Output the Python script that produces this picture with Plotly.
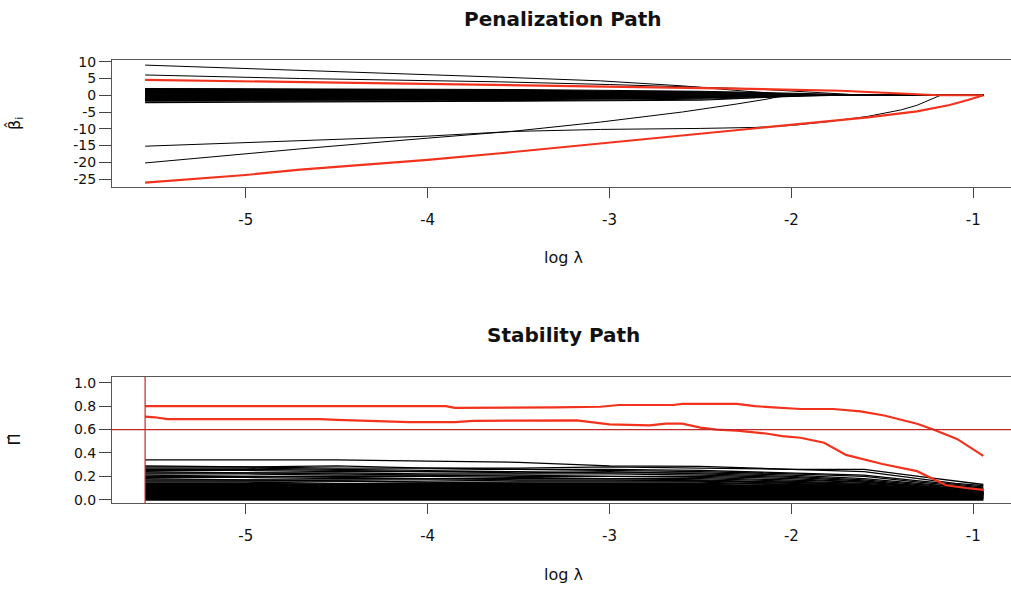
import plotly.graph_objects as go

# ---------------- data ----------------
LOG_LAMBDA_MIN = -5.553
LOG_LAMBDA_MAX = -0.945

# Penalization path: highlighted / distinct coefficient paths (x = log lambda, y = beta)
pen_C_x = [-5.553, -4.7, -3.6, -3.05, -2.6, -2.25, -1.95, -0.945]
pen_C_y = [9.0, 7.5, 5.4, 4.3, 2.8, 1.2, 0.0, 0.0]
pen_D_x = [-5.553, -4.7, -3.6, -3.0, -2.2, -1.85, -1.6, -0.945]
pen_D_y = [6.05, 5.0, 4.0, 3.2, 1.9, 0.9, 0.0, 0.0]
pen_A_x = [-5.553, -5.0, -4.5, -4.0, -3.53, -3.05, -2.5, -2.2, -2.0, -1.8, -1.58, -1.40, -1.31, -1.22, -1.18, -0.945]
pen_A_y = [-15.2, -14.2, -13.1, -12.2, -10.8, -10.2, -9.9, -9.6, -9.0, -7.9, -6.3, -4.4, -3.0, -1.0, 0.0, 0.0]
pen_B_x = [-5.553, -4.7, -4.0, -3.53, -3.05, -2.6, -2.3, -2.14, -2.03, -0.945]
pen_B_y = [-20.2, -16.0, -12.8, -10.75, -8.0, -5.0, -2.6, -1.2, 0.0, 0.0]
pen_red_E_x = [-5.553, -4.7, -3.6, -3.05, -2.3, -1.73, -1.45, -1.19, -0.945]
pen_red_E_y = [4.6, 3.9, 3.0, 2.7, 2.0, 1.35, 0.7, 0.0, 0.0]
pen_red_F_x = [-5.553, -5.0, -4.7, -4.0, -3.6, -3.05, -2.69, -2.32, -1.95, -1.58, -1.31, -1.13, -1.03, -0.945]
pen_red_F_y = [-26.1, -23.8, -22.2, -19.3, -17.3, -14.4, -12.4, -10.5, -8.7, -6.6, -4.8, -2.9, -1.4, 0.0]

# Penalization path: bulk of small coefficients
# value at start, at log lambda -3.5, at -2.5, and log lambda where it reaches 0
bulk_mid_x = [-3.5, -2.5]
bulk_v0  = [2.0, 1.9, 1.8, 1.7, 1.6, 1.5, 1.4, 1.3, 1.2, 1.1, 1.0, 0.9, 0.8, 0.7, 0.6, 0.5, 0.4, 0.3,
            -0.3, -0.4, -0.5, -0.6, -0.7, -0.8, -0.9, -1.0, -1.1, -1.2, -1.3, -1.4, -1.5, -1.6, -1.8, -2.2, 0.1, -0.1]
bulk_v35 = [1.7, 1.5, 1.4, 1.3, 1.2, 1.1, 1.0, 0.9, 0.8, 0.8, 0.7, 0.6, 0.5, 0.45, 0.4, 0.3, 0.25, 0.2,
            -0.2, -0.3, -0.35, -0.4, -0.5, -0.55, -0.6, -0.7, -0.8, -0.9, -1.0, -1.1, -1.2, -1.3, -1.6, -1.8, 0.05, -0.05]
bulk_v25 = [1.2, 1.0, 0.9, 0.8, 0.7, 0.6, 0.5, 0.5, 0.4, 0.4, 0.3, 0.3, 0.25, 0.2, 0.15, 0.1, 0.1, 0.05,
            -0.05, -0.1, -0.15, -0.2, -0.25, -0.3, -0.35, -0.4, -0.45, -0.5, -0.6, -0.7, -0.8, -0.9, -1.2, -1.5, 0.02, -0.02]
bulk_zero = [-1.5, -1.7, -1.9, -2.0, -2.1, -1.8, -2.2, -1.6, -2.0, -2.3, -2.1, -1.9, -2.2, -2.0, -2.3, -2.1, -2.2, -2.3,
             -2.3, -2.2, -2.1, -2.0, -2.2, -1.9, -2.1, -2.0, -1.8, -2.2, -1.9, -2.0, -1.7, -2.1, -1.8, -1.9, -2.4, -2.4]

# Stability path
stab_x = [-5.553, -5.0, -4.5, -4.0, -3.5, -3.0, -2.5, -2.0, -1.6, -1.3, -1.1, -0.945]
stab_black = [
    [0.34, 0.34, 0.34, 0.33, 0.32, 0.29, 0.285, 0.26, 0.26, 0.20, 0.16, 0.13],
    [0.29, 0.28, 0.29, 0.27, 0.27, 0.28, 0.27, 0.26, 0.24, 0.18, 0.14, 0.12],
    [0.28, 0.28, 0.27, 0.27, 0.26, 0.26, 0.25, 0.23, 0.21, 0.16, 0.13, 0.11],
    [0.27, 0.27, 0.26, 0.25, 0.26, 0.25, 0.24, 0.22, 0.20, 0.15, 0.12, 0.10],
    [0.26, 0.26, 0.25, 0.24, 0.24, 0.23, 0.23, 0.21, 0.18, 0.14, 0.11, 0.09],
    [0.25, 0.25, 0.24, 0.24, 0.23, 0.24, 0.22, 0.20, 0.17, 0.13, 0.11, 0.09],
    [0.24, 0.23, 0.23, 0.22, 0.22, 0.22, 0.21, 0.19, 0.16, 0.12, 0.10, 0.08],
    [0.23, 0.23, 0.22, 0.21, 0.21, 0.20, 0.20, 0.18, 0.15, 0.12, 0.10, 0.08],
    [0.22, 0.22, 0.21, 0.21, 0.20, 0.20, 0.19, 0.17, 0.15, 0.11, 0.09, 0.07],
    [0.21, 0.20, 0.20, 0.20, 0.19, 0.18, 0.18, 0.16, 0.14, 0.11, 0.09, 0.07],
    [0.20, 0.20, 0.19, 0.18, 0.18, 0.18, 0.17, 0.15, 0.13, 0.10, 0.08, 0.07],
    [0.19, 0.19, 0.18, 0.18, 0.17, 0.17, 0.16, 0.15, 0.13, 0.10, 0.08, 0.06],
    [0.18, 0.17, 0.17, 0.17, 0.16, 0.16, 0.16, 0.14, 0.12, 0.09, 0.07, 0.06],
    [0.17, 0.17, 0.16, 0.15, 0.15, 0.15, 0.15, 0.13, 0.12, 0.09, 0.07, 0.06],
    [0.16, 0.16, 0.16, 0.15, 0.14, 0.14, 0.14, 0.13, 0.11, 0.08, 0.07, 0.05],
    [0.15, 0.15, 0.14, 0.14, 0.14, 0.13, 0.13, 0.12, 0.11, 0.08, 0.06, 0.05],
    [0.14, 0.14, 0.13, 0.13, 0.13, 0.13, 0.12, 0.11, 0.10, 0.08, 0.06, 0.05],
    [0.13, 0.13, 0.13, 0.12, 0.12, 0.12, 0.12, 0.12, 0.11, 0.09, 0.07, 0.06],
    [0.12, 0.12, 0.12, 0.12, 0.12, 0.11, 0.11, 0.11, 0.10, 0.08, 0.07, 0.06],
    [0.11, 0.11, 0.11, 0.11, 0.11, 0.11, 0.10, 0.10, 0.10, 0.08, 0.06, 0.05],
    [0.10, 0.10, 0.10, 0.10, 0.10, 0.10, 0.10, 0.09, 0.09, 0.07, 0.06, 0.05],
    [0.09, 0.09, 0.09, 0.09, 0.09, 0.09, 0.09, 0.09, 0.08, 0.07, 0.05, 0.04],
    [0.08, 0.08, 0.08, 0.08, 0.08, 0.08, 0.08, 0.08, 0.07, 0.06, 0.05, 0.04],
    [0.07, 0.07, 0.07, 0.07, 0.07, 0.07, 0.07, 0.07, 0.07, 0.05, 0.04, 0.04],
    [0.06, 0.06, 0.06, 0.06, 0.06, 0.06, 0.06, 0.06, 0.06, 0.05, 0.04, 0.03],
    [0.05, 0.05, 0.05, 0.05, 0.05, 0.05, 0.05, 0.05, 0.05, 0.04, 0.03, 0.03],
    [0.04, 0.04, 0.04, 0.04, 0.04, 0.04, 0.04, 0.04, 0.04, 0.03, 0.03, 0.02],
    [0.03, 0.03, 0.03, 0.03, 0.03, 0.03, 0.03, 0.03, 0.03, 0.03, 0.02, 0.02],
    [0.02, 0.02, 0.02, 0.02, 0.02, 0.02, 0.02, 0.02, 0.02, 0.02, 0.02, 0.01],
    [0.01, 0.01, 0.01, 0.01, 0.01, 0.01, 0.01, 0.01, 0.01, 0.01, 0.01, 0.01],
    [0.00, 0.00, 0.00, 0.00, 0.00, 0.00, 0.00, 0.00, 0.00, 0.00, 0.00, 0.00],
]
stab_red1_x = [-5.553, -3.9, -3.85, -3.6, -3.3, -3.05, -2.95, -2.65, -2.6, -2.3, -2.2, -2.1, -1.95, -1.77,
               -1.62, -1.49, -1.31, -1.22, -1.09, -0.945]
stab_red1_y = [0.80, 0.80, 0.785, 0.785, 0.79, 0.795, 0.81, 0.81, 0.82, 0.82, 0.80, 0.79, 0.776, 0.776,
               0.755, 0.72, 0.65, 0.60, 0.52, 0.375]
stab_red2_x = [-5.553, -5.5, -5.43, -4.59, -4.5, -4.2, -4.1, -3.85, -3.75, -3.18, -3.0, -2.78, -2.69, -2.6,
               -2.5, -2.41, -2.3, -2.14, -2.05, -1.95, -1.82, -1.70, -1.59, -1.5, -1.31, -1.22, -1.15, -1.04, -0.945]
stab_red2_y = [0.71, 0.705, 0.69, 0.69, 0.683, 0.672, 0.664, 0.664, 0.675, 0.678, 0.645, 0.636, 0.65, 0.65,
               0.617, 0.60, 0.59, 0.566, 0.544, 0.53, 0.487, 0.383, 0.34, 0.305, 0.244, 0.173, 0.123, 0.10, 0.084]
STAB_THRESHOLD = 0.6

pen_yticks = [-25, -20, -15, -10, -5, 0, 5, 10]
stab_yticks = [0.0, 0.2, 0.4, 0.6, 0.8, 1.0]
x_ticks = [-5, -4, -3, -2, -1]

# ---------------- figure ----------------
BLACK = "#000000"
RED = "#f2321c"
DARKRED = "#c0282a"
FONT = "DejaVu Sans"

fig = go.Figure()

def line(x, y, color, width, axis):
    xa, ya = ("x", "y") if axis == 1 else ("x2", "y2")
    fig.add_trace(go.Scatter(x=x, y=y, mode="lines", xaxis=xa, yaxis=ya,
                             line=dict(color=color, width=width), hoverinfo="skip",
                             showlegend=False))

# top panel
for v0, v35, v25, zx in zip(bulk_v0, bulk_v35, bulk_v25, bulk_zero):
    line([LOG_LAMBDA_MIN, bulk_mid_x[0], bulk_mid_x[1], zx, LOG_LAMBDA_MAX],
         [v0, v35, v25, 0.0, 0.0], BLACK, 1.1, 1)
line(pen_C_x, pen_C_y, BLACK, 1.0, 1)
line(pen_D_x, pen_D_y, BLACK, 1.0, 1)
line(pen_A_x, pen_A_y, BLACK, 1.0, 1)
line(pen_B_x, pen_B_y, BLACK, 1.0, 1)
line(pen_red_E_x, pen_red_E_y, RED, 2.2, 1)
line(pen_red_F_x, pen_red_F_y, RED, 2.2, 1)

# bottom panel
for ys in stab_black:
    w = 1.3 if ys[0] > 0.135 else 2.0
    line(stab_x, ys, BLACK, w, 2)
line(stab_red1_x, stab_red1_y, RED, 2.2, 2)
line(stab_red2_x, stab_red2_y, RED, 2.2, 2)

fig.add_shape(type="line", xref="x2", yref="y2 domain", x0=LOG_LAMBDA_MIN, x1=LOG_LAMBDA_MIN,
              y0=0, y1=1, line=dict(color=DARKRED, width=1.2))
fig.add_shape(type="line", xref="x2 domain", yref="y2", x0=0, x1=1,
              y0=STAB_THRESHOLD, y1=STAB_THRESHOLD, line=dict(color=DARKRED, width=1.2))

W, H = 1011, 594
x_dom = [112 / W, 1.0]
x_rng = [-5.735, -0.793]

xtickfont = dict(family=FONT, size=15, color="#111")
ytickfont = dict(family=FONT, size=14, color="#111")
common_x = dict(domain=x_dom, range=x_rng, tickvals=x_ticks, ticktext=[str(v) for v in x_ticks],
                showgrid=False, zeroline=False, showline=True, linecolor="#555", linewidth=1,
                mirror=True, ticks="outside", ticklen=10, tickcolor="#444", tickwidth=1,
                tickfont=xtickfont, ticklabelstandoff=9)
common_y = dict(showgrid=False, zeroline=False, showline=True, linecolor="#555", linewidth=1,
                mirror=False, ticks="outside", ticklen=12, tickcolor="#444", tickwidth=1,
                tickfont=ytickfont)

fig.update_layout(
    width=W, height=H, autosize=False,
    margin=dict(l=0, r=0, t=0, b=0),
    paper_bgcolor="white", plot_bgcolor="white",
    xaxis=dict(anchor="y", **common_x),
    yaxis=dict(anchor="x", domain=[1 - 184 / H, 1 - 55 / H], range=[-27.35, 10.5],
               tickvals=pen_yticks, ticktext=[str(v) for v in pen_yticks], **common_y),
    xaxis2=dict(anchor="y2", **common_x),
    yaxis2=dict(anchor="x2", domain=[1 - 505.7 / H, 1 - 377.3 / H], range=[-0.03, 1.05],
                tickvals=stab_yticks, ticktext=[f"{v:.1f}" for v in stab_yticks], **common_y),
)

ann_font = dict(family=FONT, size=16, color="#111")
title_font = dict(family=FONT, size=20, color="#111")
annotations = [
    dict(text="<b>Penalization Path</b>", x=563 / W, y=1 - 13 / H, font=title_font),
    dict(text="<b>Stability Path</b>", x=563 / W, y=1 - 335 / H, font=title_font),
    dict(text="log λ", x=563 / W, y=1 - 256 / H, font=ann_font),
    dict(text="log λ", x=563 / W, y=1 - 578 / H, font=ann_font),
    dict(text="β̂<sub>i</sub>", x=15 / W, y=1 - 120 / H, font=ann_font, textangle=-90),
    dict(text="Π̂", x=15 / W, y=1 - 441 / H, font=ann_font, textangle=-90),
]
for a in annotations:
    fig.add_annotation(xref="paper", yref="paper", showarrow=False,
                       xanchor="center", yanchor="middle", **a)

fig.write_html("out.html",
               config={"displayModeBar": False},
               post_script="document.body.style.margin='0px';"
                           "document.documentElement.style.overflow='hidden';")
